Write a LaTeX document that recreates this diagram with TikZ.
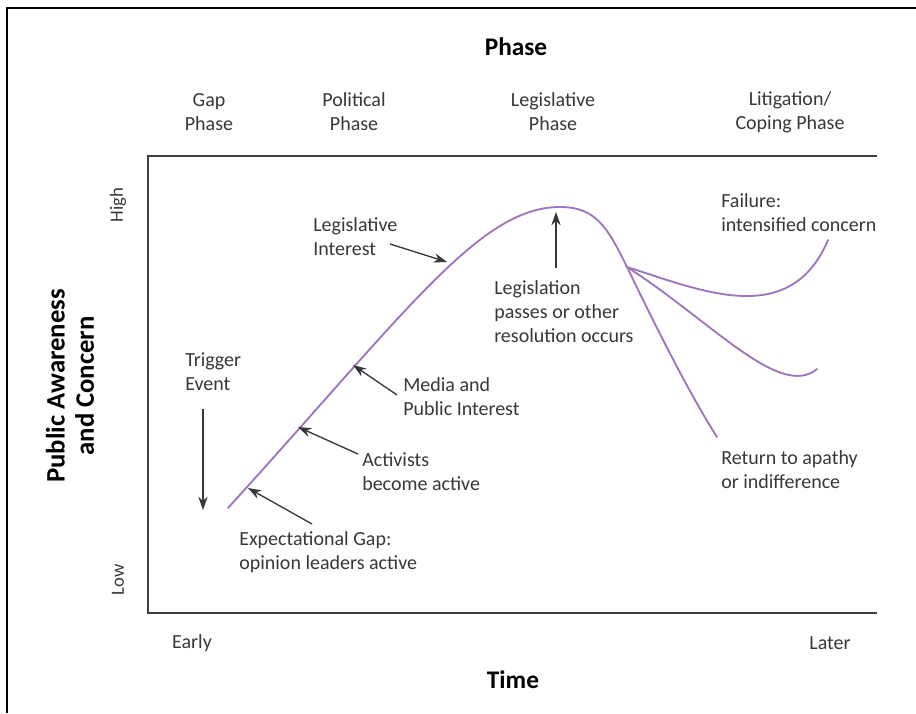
\documentclass[tikz,border=0pt]{standalone}
\usepackage{fontspec}
\setmainfont{Carlito}
\usetikzlibrary{arrows.meta}
\definecolor{curvecol}{RGB}{158,118,188}
\definecolor{inkgray}{RGB}{55,55,60}

\begin{document}
\begin{tikzpicture}[x=0.75pt,y=-0.75pt,
	lbl/.style={inner sep=0pt,align=left,anchor=west,text=inkgray,font=\fontsize{15}{18}\selectfont},
	phase/.style={inner sep=0pt,align=center,text=inkgray,font=\fontsize{15}{18}\selectfont},
	ttl/.style={inner sep=0pt,text=black,font=\fontsize{19}{22}\selectfont\bfseries},
	ptr/.style={inkgray,line width=1pt,-{Stealth[length=10pt,width=7pt]}},
	trend/.style={draw=curvecol,line width=1.4pt,line cap=round}]

	\useasboundingbox (0,0) rectangle (916,713);
	\draw[black,line width=1.1pt] (7,713) -- (7,8) -- (916,8);
	\draw[black!75,line width=1.2pt] (877,156) -- (148,156) -- (148,613) -- (877,613);

	\node[ttl] (phasettl) at (516,47) {Phase};
	\node[phase] (gap) at (209,112) {Gap\\Phase};
	\node[phase] (political) at (354,112) {Political\\Phase};
	\node[phase] (legislative) at (553,112) {Legislative\\Phase};
	\node[phase] (litigation) at (790,112) {Litigation/\\Coping Phase};

	\node[phase,rotate=90,font=\fontsize{14}{16}\selectfont] (high) at (118,205) {High};
	\node[phase,rotate=90,font=\fontsize{14}{16}\selectfont] (low) at (118,580) {Low};
	\node[ttl,rotate=90,align=center,font=\fontsize{20}{22}\selectfont\bfseries] (yttl) at (70,386) {Public Awareness\\and Concern};
	\node[phase] (early) at (192,643) {Early};
	\node[phase] (later) at (830,643) {Later};
	\node[ttl] (time) at (513,680) {Time};

	\coordinate (start) at (228,508);
	\coordinate (peak) at (560,207);
	\coordinate (fork) at (627,267);
	\coordinate (apathyend) at (717,437);
	\coordinate (failend) at (828,240);
	\coordinate (midend) at (817,369);

	\draw[trend] (start) .. controls (408,310) and (480,207) .. (peak)
		.. controls (595,207) and (607,226) .. (fork)
		.. controls (655,325) and (690,395) .. (apathyend);
	\draw[trend] (fork) .. controls (700,290) and (790,330) .. (failend);
	\draw[trend] (fork) .. controls (710,320) and (780,400) .. (midend);

	\node[lbl] (legint) at (313,237) {Legislative\\Interest};
	\node[lbl] (legpass) at (494,312) {Legislation\\passes or other\\resolution occurs};
	\node[lbl] (trigger) at (185,372) {Trigger\\Event};
	\node[lbl] (media) at (403,397) {Media and\\Public Interest};
	\node[lbl] (activists) at (362,472) {Activists\\become active};
	\node[lbl] (expgap) at (239,552) {Expectational Gap:\\opinion leaders active};
	\node[lbl] (failure) at (721,213) {Failure:\\intensified concern};
	\node[lbl] (apathy) at (721,470) {Return to apathy\\or indifference};

	\coordinate (legintS) at (390,244);
	\coordinate (legintT) at (447,262);
	\coordinate (legpassS) at (556,268);
	\coordinate (legpassT) at (556,212);
	\coordinate (mediaS) at (397,395);
	\coordinate (mediaT) at (353,365);
	\coordinate (activistsS) at (358,454);
	\coordinate (activistsT) at (298,427);
	\coordinate (expgapS) at (312,524);
	\coordinate (expgapT) at (248,488);
	\coordinate (triggerS) at (203,409);
	\coordinate (triggerT) at (203,510);

	\draw[ptr] (legintS) -- (legintT);
	\draw[ptr] (legpassS) -- (legpassT);
	\draw[ptr] (mediaS) -- (mediaT);
	\draw[ptr] (activistsS) -- (activistsT);
	\draw[ptr] (expgapS) -- (expgapT);
	\draw[ptr] (triggerS) -- (triggerT);
\end{tikzpicture}
\end{document}
